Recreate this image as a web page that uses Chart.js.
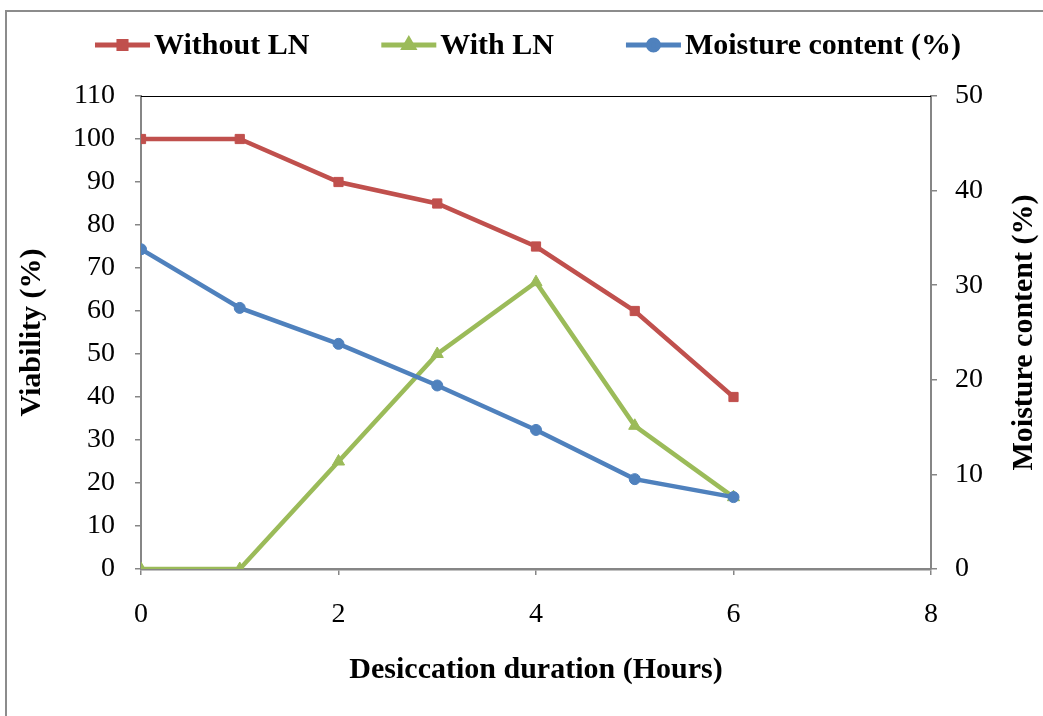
<!DOCTYPE html>
<html>
<head>
<meta charset="utf-8">
<title>Viability and moisture content</title>
<script src="https://cdn.jsdelivr.net/npm/chart.js@4.4.1/dist/chart.umd.min.js"></script>
<style>
  html, body { margin: 0; padding: 0; background: #fff; }
  canvas { display: block; }
</style>
</head>
<body>
<canvas id="viabilityChart" width="1043" height="716"></canvas>
<script>
'use strict';

/* data */
var hours = [0, 1, 2, 3, 4, 5, 6];
var withoutLN = [100, 100, 90, 85, 75, 60, 40];
var withLN = [0, 0, 25, 50, 66.7, 33.3, 16.7];
var moisture = [33.8, 27.6, 23.8, 19.4, 14.7, 9.5, 7.6];
var xTicks = [0, 2, 4, 6, 8];

var RED = '#C0504D';
var GREEN = '#9BBB59';
var BLUE = '#4F81BD';
var AXIS_GREY = '#868686';
var SERIF = '"Liberation Serif", "Times New Roman", serif';

function toPoints(values) {
	return hours.map(function (h, i) {
		return { x: h, y: values[i] };
	});
}

Chart.defaults.font.family = SERIF;
Chart.defaults.color = '#000';

/* white page with the grey frame on the top and left */
var framePlugin = {
	id: 'frame',
	beforeDraw: function (chart) {
		var ctx = chart.ctx;
		ctx.save();
		ctx.fillStyle = '#fff';
		ctx.fillRect(0, 0, chart.width, chart.height);
		ctx.strokeStyle = '#8c8c8c';
		ctx.lineWidth = 2;
		ctx.beginPath();
		ctx.moveTo(chart.width, 11);
		ctx.lineTo(6, 11);
		ctx.lineTo(6, chart.height);
		ctx.stroke();
		ctx.restore();
	}
};

/* top border, right axis title and the legend row */
var extrasPlugin = {
	id: 'extras',
	afterDraw: function (chart) {
		var ctx = chart.ctx;
		var area = chart.chartArea;
		ctx.save();

		ctx.strokeStyle = '#000';
		ctx.lineWidth = 1;
		ctx.beginPath();
		ctx.moveTo(area.left, area.top + 0.5);
		ctx.lineTo(area.right, area.top + 0.5);
		ctx.stroke();

		ctx.fillStyle = '#000';
		ctx.font = 'bold 30px ' + SERIF;
		ctx.textAlign = 'center';
		ctx.textBaseline = 'middle';
		ctx.translate(1024, (area.top + area.bottom) / 2);
		ctx.rotate(-Math.PI / 2);
		ctx.fillText('Moisture content (%)', 0, 0);
		ctx.restore();

		drawLegend(chart, 528, 45);
	}
};

function drawLegend(chart, centerX, y) {
	var ctx = chart.ctx;
	var sampleW = 55, textGap = 4, itemGap = 72;
	var sets = chart.data.datasets;

	ctx.save();
	ctx.font = 'bold 30px ' + SERIF;
	ctx.textBaseline = 'middle';
	ctx.textAlign = 'left';

	var total = 0;
	var widths = sets.map(function (ds) {
		return ctx.measureText(ds.label).width;
	});
	widths.forEach(function (w, i) {
		total += sampleW + textGap + w + (i < widths.length - 1 ? itemGap : 0);
	});

	var x = centerX - total / 2;
	sets.forEach(function (ds, i) {
		ctx.strokeStyle = ds.borderColor;
		ctx.fillStyle = ds.borderColor;
		ctx.lineWidth = 5;
		ctx.beginPath();
		ctx.moveTo(x, y);
		ctx.lineTo(x + sampleW, y);
		ctx.stroke();
		Chart.helpers.drawPoint(ctx, {
			pointStyle: ds.pointStyle,
			radius: 5,
			borderWidth: 1,
			rotation: 0
		}, x + sampleW / 2, y);

		ctx.fillStyle = '#000';
		ctx.fillText(ds.label, x + sampleW + textGap, y + 1);
		x += sampleW + textGap + widths[i] + itemGap;
	});
	ctx.restore();
}

var chartCtx = document.getElementById('viabilityChart').getContext('2d');
var chart = new Chart(chartCtx, {
	type: 'line',
	data: {
		datasets: [{
			label: 'Without LN',
			data: toPoints(withoutLN),
			yAxisID: 'y',
			borderColor: RED,
			backgroundColor: RED,
			borderWidth: 4.5,
			pointStyle: 'rect',
			pointRadius: 6.5,
			pointBorderWidth: 1,
			order: 1
		},
		{
			label: 'With LN',
			data: toPoints(withLN),
			yAxisID: 'y',
			borderColor: GREEN,
			backgroundColor: GREEN,
			borderWidth: 4.5,
			pointStyle: 'triangle',
			pointRadius: 7,
			pointBorderWidth: 1,
			order: 2
		},
		{
			label: 'Moisture content (%)',
			data: toPoints(moisture),
			yAxisID: 'y2',
			borderColor: BLUE,
			backgroundColor: BLUE,
			borderWidth: 4.5,
			pointStyle: 'circle',
			pointRadius: 5.5,
			pointBorderWidth: 1,
			order: 0
		}]
	},
	options: {
		responsive: false,
		animation: false,
		devicePixelRatio: 1,
		layout: { padding: { top: 96, left: 0, right: 0, bottom: 0 } },
		plugins: {
			legend: { display: false },
			tooltip: { enabled: false }
		},
		scales: {
			x: {
				type: 'linear',
				min: 0,
				max: 8,
				afterBuildTicks: function (scale) {
					scale.ticks = xTicks.map(function (v) { return { value: v }; });
				},
				afterFit: function (scale) { scale.height = 147; },
				grid: { drawOnChartArea: false, tickLength: 6, color: AXIS_GREY, lineWidth: 1.5 },
				border: { color: AXIS_GREY, width: 2.5 },
				ticks: { padding: 23, font: { size: 28 }, maxRotation: 0 },
				title: {
					display: true,
					text: 'Desiccation duration (Hours)',
					font: { size: 30, weight: 'bold' },
					padding: { top: 0, bottom: 28 }
				}
			},
			y: {
				position: 'left',
				min: 0,
				max: 110,
				afterFit: function (scale) { scale.width = 141; },
				grid: { drawOnChartArea: false, tickLength: 6, color: AXIS_GREY, lineWidth: 1.5 },
				border: { color: AXIS_GREY, width: 2 },
				ticks: { stepSize: 10, padding: 20, font: { size: 28 } },
				title: {
					display: true,
					text: 'Viability (%)',
					font: { size: 30, weight: 'bold' },
					padding: { top: 14, bottom: 0 }
				}
			},
			y2: {
				position: 'right',
				min: 0,
				max: 50,
				afterFit: function (scale) { scale.width = 112; },
				grid: { drawOnChartArea: false, tickLength: 6, color: AXIS_GREY, lineWidth: 1.5 },
				border: { color: AXIS_GREY, width: 2 },
				ticks: { stepSize: 10, padding: 18, font: { size: 28 } }
			}
		}
	},
	plugins: [framePlugin, extrasPlugin]
});
</script>
</body>
</html>
